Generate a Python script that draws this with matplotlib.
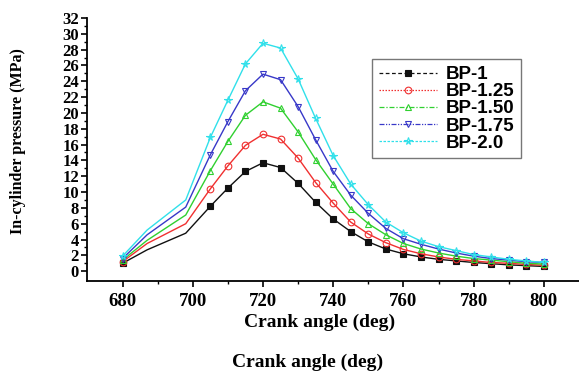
import matplotlib
matplotlib.use("Agg")
import matplotlib.pyplot as plt
from matplotlib.lines import Line2D

# ---- data ----
crank_angle = [680, 687, 698, 705, 710, 715, 720, 725, 730, 735, 740, 745, 750,
               755, 760, 765, 770, 775, 780, 785, 790, 795, 800]
bp_1 = [1.0, 2.7, 4.8, 8.2, 10.5, 12.6, 13.7, 13.1, 11.1, 8.7, 6.6, 5.0, 3.7,
        2.8, 2.2, 1.8, 1.5, 1.3, 1.1, 0.95, 0.8, 0.7, 0.6]
bp_125 = [1.2, 3.5, 6.0, 10.4, 13.3, 15.9, 17.3, 16.7, 14.3, 11.2, 8.6, 6.2, 4.7,
          3.6, 2.75, 2.2, 1.8, 1.5, 1.3, 1.1, 1.0, 0.85, 0.75]
bp_150 = [1.4, 3.9, 7.1, 12.7, 16.4, 19.7, 21.4, 20.6, 17.6, 14.1, 11.0, 7.9, 6.0,
          4.6, 3.5, 2.8, 2.3, 1.9, 1.6, 1.4, 1.2, 1.0, 0.9]
bp_175 = [1.6, 4.6, 8.1, 14.7, 18.9, 22.8, 24.9, 24.2, 20.8, 16.6, 12.6, 9.6, 7.3,
          5.4, 4.1, 3.4, 2.8, 2.3, 1.9, 1.6, 1.4, 1.2, 1.1]
bp_20 = [1.9, 5.2, 9.0, 16.9, 21.6, 26.2, 28.8, 28.2, 24.3, 19.3, 14.6, 11.0, 8.4,
         6.2, 4.85, 3.8, 3.1, 2.6, 2.1, 1.8, 1.5, 1.3, 1.1]
labels = ["BP-1", "BP-1.25", "BP-1.50", "BP-1.75", "BP-2.0"]
x_ticks = [680, 700, 720, 740, 760, 780, 800]
y_ticks = list(range(0, 33, 2))

series = [bp_1, bp_125, bp_150, bp_175, bp_20]
colors = ["#111111", "#f03030", "#30d030", "#3838c8", "#30e0ea"]
markers = ["s", "o", "^", "v", "*"]
legend_ls = [(0, (3, 2)), (0, (1.2, 1.2)), (0, (4, 1.5, 1, 1.5)),
             (0, (4, 1.2, 1, 1.2, 1, 1.2)), (0, (2, 1.2))]

fig = plt.figure(figsize=(5.79, 3.74), dpi=100)
ax = fig.add_axes([0.151, 0.2495, 0.849, 0.7025])

mark_idx = [0] + list(range(3, len(crank_angle)))
handles = []
for vals, c, m, ls, lab in zip(series, colors, markers, legend_ls, labels):
    filled = (m == "s")
    ms = 4.2 if m == "s" else (5.5 if m == "*" else 4.8)
    ax.plot(crank_angle, vals, color=c, lw=1.0, marker=m, markevery=mark_idx,
            markersize=ms,
            markerfacecolor=c if filled else "none",
            markeredgecolor=c, markeredgewidth=0.8, clip_on=False)
    handles.append(Line2D([], [], color=c, lw=0.9, ls=ls, marker=m,
                          markersize=ms,
                          markerfacecolor=c if filled else "none",
                          markeredgecolor=c, markeredgewidth=0.8))

ax.set_xlim(670, 810)
ax.set_ylim(-1.2, 32)
ax.set_xticks(x_ticks)
ax.set_xticks(list(range(690, 801, 20)), minor=True)
ax.set_yticks(y_ticks)
ax.set_yticks(list(range(1, 32, 2)), minor=True)

tick_font = dict(family="Liberation Serif", weight="bold")
ax.set_xticklabels([str(v) for v in x_ticks], fontsize=13.5, **tick_font)
ax.set_yticklabels([str(v) for v in y_ticks], fontsize=12, **tick_font)
ax.tick_params(axis="both", which="major", direction="out", length=4, width=1.2, pad=2)
ax.tick_params(axis="both", which="minor", direction="out", length=2.5, width=1.0)
ax.tick_params(axis="x", pad=5)

for s in ["top", "right"]:
    ax.spines[s].set_visible(False)
for s in ["left", "bottom"]:
    ax.spines[s].set_linewidth(1.3)

ax.set_xlabel("Crank angle (deg)", fontsize=14, **tick_font)
ax.xaxis.set_label_coords(0.473, -0.125)
ax.set_ylabel("In-cylinder pressure (MPa)", fontsize=11.5, **tick_font)
ax.yaxis.set_label_coords(-0.125, 0.53)

fig.text(0.532, 0.008, "Crank angle (deg)", ha="center", va="bottom",
         fontsize=14, **tick_font)

leg = ax.legend(handles, labels, loc="upper left",
                bbox_to_anchor=(0.643, 0.841), bbox_transform=fig.transFigure,
                prop=dict(family="Liberation Sans", weight="bold", size=13.5),
                handlelength=3.1, handletextpad=0.45, labelspacing=0.0,
                borderpad=0.35, borderaxespad=0, fancybox=False, frameon=True)
leg.get_frame().set_edgecolor("#555555")
leg.get_frame().set_linewidth(1.0)

fig.savefig("out.png", dpi=100)
